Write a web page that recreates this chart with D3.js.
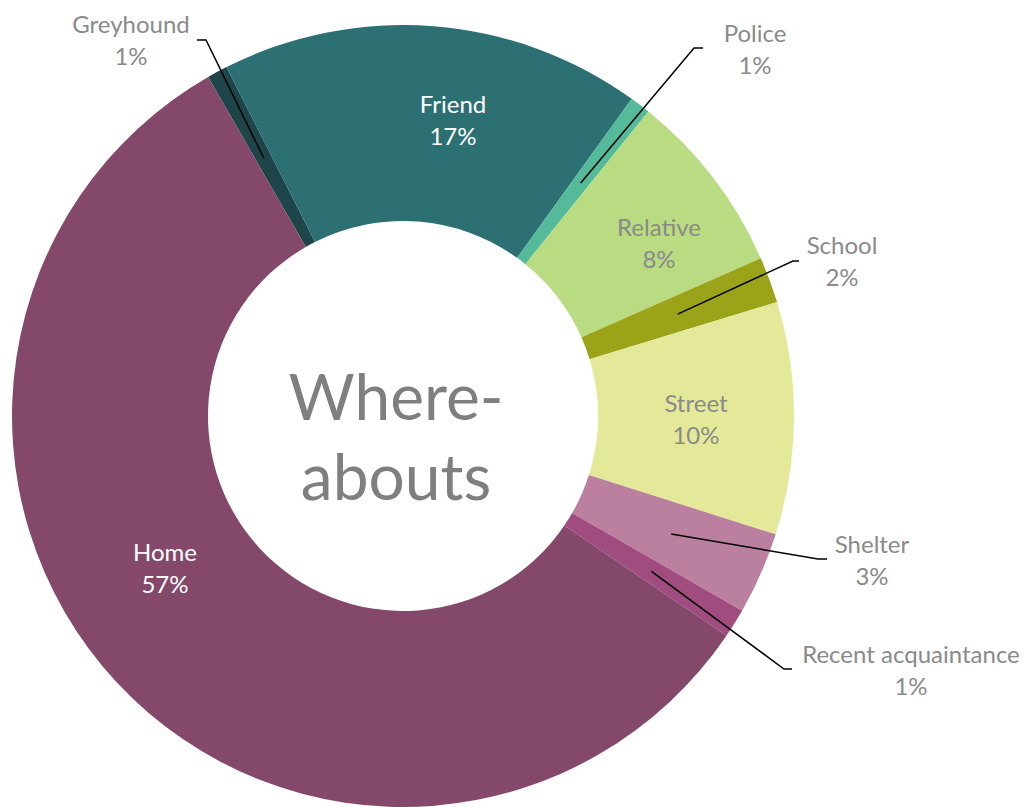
<!DOCTYPE html>
<html><head><meta charset="utf-8">
<script src="https://cdn.jsdelivr.net/npm/d3@7"></script>
<style>html,body{margin:0;padding:0;background:#fff;overflow:hidden}</style>
</head><body>
<svg id="chart" width="1035" height="807"></svg>
<script>
const categories = ["Greyhound","Friend","Police","Relative","School","Street","Shelter","Recent acquaintance","Home"];
const values = [0.85,17.4,0.85,7.6,1.9,9.6,3.4,1.2,57.2];
const colors = ["#1E464A","#2D7074","#55BA9A","#B9DC82","#9BA419","#E4E99A","#BB809F","#A04C7F","#84496A"];
const centerTitle = ["Where-","abouts"];

// label layout (annotation positions)
const inside = {Friend:{x:453,y:121,c:"#ffffff"}, Relative:{x:659,y:244,c:"#8a8a8a"}, Street:{x:696,y:420,c:"#8a8a8a"}, Home:{x:165,y:569,c:"#ffffff"}};
const outside = {
  "Greyhound":{x:131,y:41,ex:206,ey:40,hx:197},
  "Police":{x:755,y:50,ex:694,ey:48,hx:703},
  "School":{x:842,y:262,ex:793,ey:261,hx:799},
  "Shelter":{x:872,y:561,ex:818,ey:559,hx:827},
  "Recent acquaintance":{x:911,y:671,ex:784,ey:669,hx:792}
};

const cx = 403, cy = 416, R = 391, r0 = 195;
const font = "Lato, 'Open Sans', sans-serif";
const svg = d3.select("#chart");
const g = svg.append("g").attr("transform",`translate(${cx},${cy})`);

const start = -29.9*Math.PI/180;
const data = categories.map((c,i)=>({name:c,value:values[i],color:colors[i]}));
const pie = d3.pie().sort(null).value(d=>d.value).startAngle(start).endAngle(start+2*Math.PI);
const arcs = pie(data);
const arc = d3.arc().innerRadius(r0).outerRadius(R);

g.selectAll("path.slice").data(arcs).join("path")
  .attr("class","slice").attr("d",arc).attr("fill",d=>d.data.color);

const fmt = v => Math.round(v)+"%";

// inside labels
arcs.filter(a=>inside[a.data.name]).forEach(a=>{
  const p = inside[a.data.name];
  const t = svg.append("text").attr("text-anchor","middle").attr("font-family",font)
    .attr("font-size",24).attr("fill",p.c);
  t.append("tspan").attr("x",p.x).attr("y",p.y-16).attr("dy","0.35em").text(a.data.name);
  t.append("tspan").attr("x",p.x).attr("y",p.y+16).attr("dy","0.35em").text(fmt(a.data.value));
});

// outside labels with leader lines
arcs.filter(a=>outside[a.data.name]).forEach(a=>{
  const p = outside[a.data.name];
  const c = arc.centroid(a);
  svg.append("polyline")
    .attr("points",`${cx+c[0]},${cy+c[1]} ${p.ex},${p.ey} ${p.hx},${p.ey}`)
    .attr("fill","none").attr("stroke","#000").attr("stroke-width",1.5);
  const t = svg.append("text").attr("text-anchor","middle").attr("font-family",font)
    .attr("font-size",24).attr("fill","#8a8a8a");
  t.append("tspan").attr("x",p.x).attr("y",p.y-16).attr("dy","0.35em").text(a.data.name);
  t.append("tspan").attr("x",p.x).attr("y",p.y+16).attr("dy","0.35em").text(fmt(a.data.value));
});

// center title
const ct = svg.append("text").attr("text-anchor","middle").attr("font-family",font)
  .attr("font-size",64).attr("fill","#7f7f7f");
ct.append("tspan").attr("x",396).attr("y",420).text(centerTitle[0]);
ct.append("tspan").attr("x",396).attr("y",500).text(centerTitle[1]);
</script>
</body></html>
